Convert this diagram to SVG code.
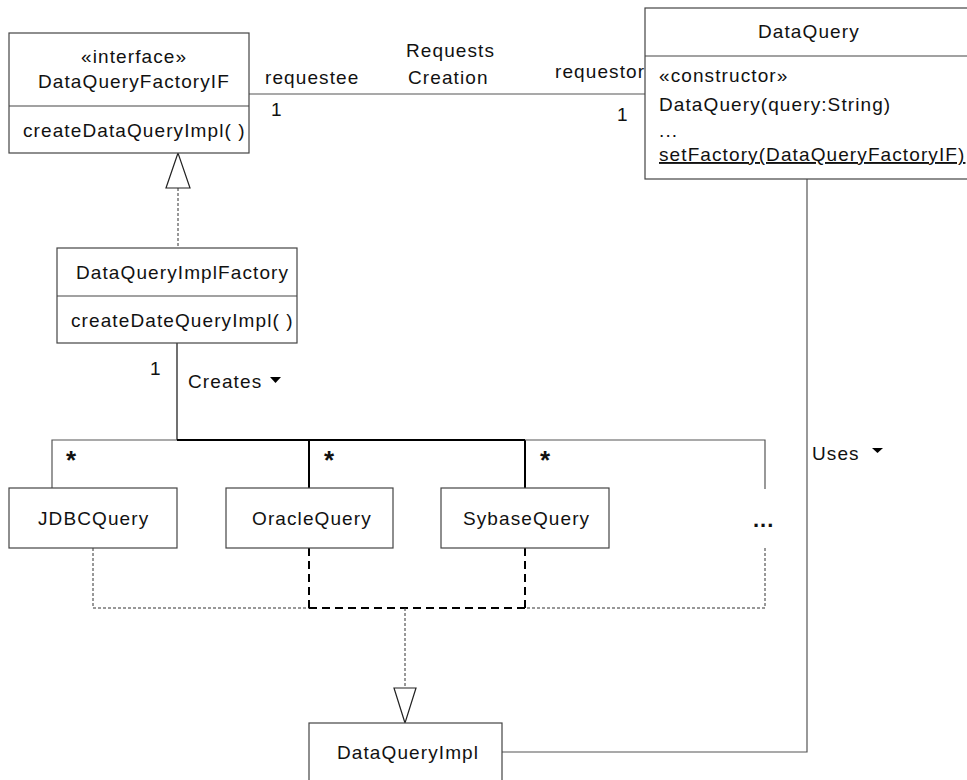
<svg xmlns="http://www.w3.org/2000/svg" width="967" height="780" viewBox="0 0 967 780">
<style>
  text { font-family: "Liberation Sans", Arial, sans-serif; font-size: 19px; letter-spacing: 1.1px; fill: #111; }
  .box { fill: #fff; stroke: #444; stroke-width: 1.2; }
  .sep { stroke: #444; stroke-width: 1.2; }
  .thin { fill: none; stroke: #555; stroke-width: 1.2; }
  .solid { fill: none; stroke: #111; stroke-width: 1.2; }
  .bold { fill: none; stroke: #000; stroke-width: 2; }
  .dot { fill: none; stroke: #333; stroke-width: 1; stroke-dasharray: 3 2; }
  .dash { fill: none; stroke: #000; stroke-width: 2; stroke-dasharray: 8 5; }
  .hollow { fill: #fff; stroke: #222; stroke-width: 1.2; }
  .fillTri { fill: #000; }
  .star { font-weight: bold; font-size: 26px; letter-spacing: 0; }
  .more { font-weight: bold; font-size: 22px; letter-spacing: 1px; }
</style>
<rect width="967" height="780" fill="#fff"/>

<g id="connectors">
  <!-- Requests Creation association -->
  <line class="thin" x1="249" y1="94" x2="645" y2="94"/>
  <text x="265" y="84">requestee</text>
  <text x="271" y="116">1</text>
  <text x="406" y="57">Requests</text>
  <text x="408" y="84">Creation</text>
  <text x="555" y="78">requestor</text>
  <text x="617" y="121">1</text>

  <!-- realization DataQueryImplFactory -> DataQueryFactoryIF -->
  <line class="dot" x1="178" y1="188" x2="178" y2="248"/>
  <polygon class="hollow" points="178,153 166,188 190,188"/>

  <!-- Creates -->
  <line class="solid" x1="177" y1="343" x2="177" y2="440"/>
  <text x="150" y="375">1</text>
  <text x="188" y="388">Creates</text>
  <polygon class="fillTri" points="270,377 281,377 275.5,383"/>
  <polyline class="thin" points="177,440 52,440 52,488"/>
  <line class="bold" x1="177" y1="440" x2="525" y2="440"/>
  <line class="bold" x1="309" y1="440" x2="309" y2="488"/>
  <line class="bold" x1="525" y1="440" x2="525" y2="488"/>
  <polyline class="thin" points="525,440 765,440 765,489"/>
  <text class="star" x="66" y="469">*</text>
  <text class="star" x="324" y="469">*</text>
  <text class="star" x="540" y="469">*</text>

  <!-- realizations to DataQueryImpl -->
  <polyline class="dot" points="93,548 93,608 309,608"/>
  <polyline class="dot" points="765,548 765,608 525,608"/>
  <line class="dash" x1="309" y1="548" x2="309" y2="608"/>
  <line class="dash" x1="525" y1="548" x2="525" y2="608"/>
  <line class="dash" x1="309" y1="608" x2="525" y2="608"/>
  <line class="dot" x1="405" y1="608" x2="405" y2="688"/>
  <polygon class="hollow" points="405,723 394,688 416,688"/>

  <!-- Uses -->
  <polyline class="thin" points="502,752 807,752 807,179"/>
  <text x="812" y="460">Uses</text>
  <polygon class="fillTri" points="872,448 883,448 877.5,453"/>
</g>

<g id="DataQueryFactoryIF">
  <rect class="box" x="9" y="33" width="240" height="120"/>
  <line class="sep" x1="9" y1="106" x2="249" y2="106"/>
  <text x="81" y="63">«interface»</text>
  <text x="38" y="88">DataQueryFactoryIF</text>
  <text x="23" y="137">createDataQueryImpl( )</text>
</g>

<g id="DataQuery">
  <rect class="box" x="645" y="8" width="330" height="171"/>
  <line class="sep" x1="645" y1="56" x2="975" y2="56"/>
  <text x="758" y="38">DataQuery</text>
  <text x="659" y="82">«constructor»</text>
  <text x="659" y="111">DataQuery(query:String)</text>
  <text x="659" y="137">...</text>
  <text x="659" y="161" text-decoration="underline">setFactory(DataQueryFactoryIF)</text>
</g>

<g id="DataQueryImplFactory">
  <rect class="box" x="57" y="248" width="240" height="95"/>
  <line class="sep" x1="57" y1="296" x2="297" y2="296"/>
  <text x="76" y="279">DataQueryImplFactory</text>
  <text x="71" y="327">createDateQueryImpl( )</text>
</g>

<g id="JDBCQuery">
  <rect class="box" x="9" y="488" width="168" height="60"/>
  <text x="38" y="525">JDBCQuery</text>
</g>

<g id="OracleQuery">
  <rect class="box" x="226" y="488" width="167" height="60"/>
  <text x="252" y="525">OracleQuery</text>
</g>

<g id="SybaseQuery">
  <rect class="box" x="441" y="488" width="168" height="60"/>
  <text x="463" y="525">SybaseQuery</text>
</g>

<g id="More">
  <text class="more" x="753" y="527">...</text>
</g>

<g id="DataQueryImpl">
  <rect class="box" x="309" y="723" width="193" height="70"/>
  <text x="337" y="759">DataQueryImpl</text>
</g>
</svg>
